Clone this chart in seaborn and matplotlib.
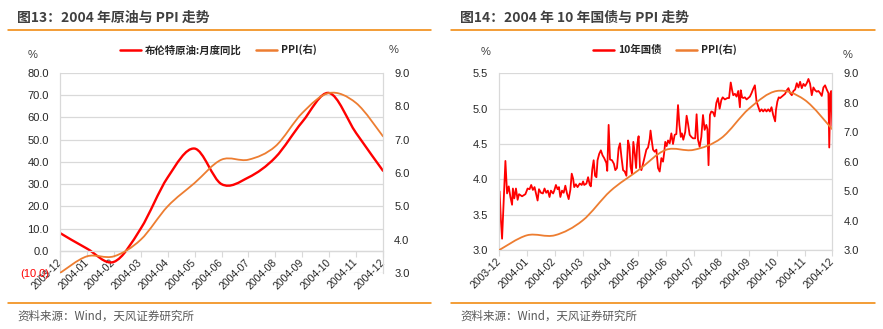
import numpy as np
import matplotlib
matplotlib.use("Agg")
import matplotlib.pyplot as plt
from matplotlib.path import Path
from matplotlib.patches import PathPatch
from matplotlib.lines import Line2D
import seaborn as sns

# ---------------- data ----------------
months = ["2003-12", "2004-01", "2004-02", "2004-03", "2004-04", "2004-05", "2004-06",
          "2004-07", "2004-08", "2004-09", "2004-10", "2004-11", "2004-12"]
brent_yoy = [8, 1, -5, 10, 33, 46, 30, 33, 42, 58, 71, 53, 36]
ppi = [3.0, 3.5, 3.5, 4.0, 5.0, 5.7, 6.4, 6.4, 6.8, 7.8, 8.4, 8.1, 7.1]

# 10Y government bond yield, time expressed in months since 2003-12
bond_month = [0.01, 0.06, 0.10, 0.22, 0.28, 0.34, 0.40, 0.46, 0.49, 0.54, 0.60, 0.66, 0.71, 0.82, 0.94,
              1.02, 1.09, 1.15, 1.21, 1.27, 1.33, 1.38, 1.43, 1.50, 1.57, 1.63, 1.69, 1.75, 1.81, 1.86,
              1.94, 1.98, 2.04, 2.10, 2.15, 2.20, 2.26, 2.32, 2.38, 2.44, 2.50, 2.56, 2.61, 2.66, 2.70,
              2.76, 2.82, 2.90, 2.97, 3.02, 3.06, 3.14, 3.20, 3.26, 3.30, 3.35, 3.40, 3.45, 3.50, 3.54,
              3.60, 3.66, 3.72, 3.78, 3.86, 3.89, 3.94, 3.99,
              4.06, 4.13, 4.18, 4.24, 4.30, 4.35, 4.40, 4.46, 4.52, 4.58, 4.64, 4.69, 4.73, 4.78, 4.83,
              4.88, 4.93, 4.97, 5.02, 5.07, 5.12, 5.18, 5.24, 5.30, 5.36, 5.42, 5.45, 5.50, 5.54, 5.60,
              5.66, 5.72, 5.78, 5.84, 5.90, 5.94, 5.98, 6.03, 6.08, 6.14, 6.20, 6.26, 6.32, 6.38, 6.44,
              6.49, 6.54, 6.58, 6.63, 6.70, 6.75, 6.80, 6.86, 6.92, 6.98, 7.06, 7.11, 7.16, 7.22, 7.28,
              7.34, 7.40, 7.46, 7.50, 7.54, 7.59, 7.64, 7.70, 7.76, 7.82, 7.88, 7.94, 8.00,
              8.05, 8.13, 8.22, 8.28, 8.34, 8.39, 8.43, 8.49, 8.55, 8.61, 8.67, 8.70, 8.75, 8.79, 8.85,
              8.91, 8.97, 9.03, 9.09, 9.15, 9.21, 9.27, 9.33, 9.39, 9.45, 9.51, 9.57, 9.63, 9.69, 9.75,
              9.81, 9.87, 9.94, 9.97, 10.02, 10.07, 10.12, 10.18, 10.24, 10.30, 10.36, 10.42, 10.48,
              10.54, 10.60, 10.66, 10.72, 10.78, 10.84, 10.90, 10.96, 11.02, 11.08, 11.14, 11.20, 11.26,
              11.32, 11.38, 11.44, 11.50, 11.56, 11.62, 11.68, 11.74, 11.80, 11.86, 11.89, 11.93, 11.96,
              12.00]
bond_yield = [3.83, 3.40, 3.16, 4.26, 3.80, 3.90, 3.75, 3.64, 3.87, 3.73, 3.87, 3.71, 3.79, 3.76, 3.79,
              3.87, 3.86, 3.92, 3.85, 3.89, 3.79, 3.70, 3.86, 3.81, 3.80, 3.87, 3.81, 3.84, 3.75, 3.84,
              3.80, 3.84, 3.92, 3.86, 3.89, 3.75, 3.84, 3.81, 3.91, 3.80, 3.72, 3.85, 4.08, 4.01, 3.89,
              3.93, 3.89, 3.94, 3.92, 3.97, 3.92, 3.94, 4.03, 3.92, 3.90, 4.14, 4.27, 4.05, 4.03, 4.27,
              4.36, 4.41, 4.34, 4.30, 4.23, 4.12, 4.77, 4.28,
              4.27, 4.22, 4.13, 4.16, 4.44, 4.51, 4.32, 4.13, 4.11, 4.05, 4.55, 4.46, 4.18, 4.08, 4.53,
              4.37, 4.16, 4.49, 4.61, 4.16, 4.13, 4.22, 4.32, 4.42, 4.45, 4.57, 4.69, 4.53, 4.42, 4.39,
              4.42, 4.16, 4.11, 4.30, 4.25, 4.37, 4.53, 4.47, 4.55, 4.51, 4.65, 4.50, 4.63, 4.64, 5.05,
              4.77, 4.60, 4.65, 4.56, 4.67, 4.90, 4.79, 4.63, 4.60, 4.58, 4.58, 4.92, 4.56, 4.46, 4.60,
              4.91, 4.70, 4.77, 4.71, 4.20, 4.91, 4.96, 4.95, 4.89, 5.08, 5.15, 5.00, 5.12,
              5.16, 5.13, 5.15, 5.15, 5.37, 5.26, 5.19, 5.21, 5.17, 5.25, 5.02, 5.26, 5.16, 5.15, 5.16,
              5.13, 5.15, 5.17, 5.22, 5.28, 5.33, 5.10, 5.03, 4.96, 4.99, 4.96, 4.99, 4.96, 4.99, 4.96,
              5.02, 4.91, 4.82, 4.98, 5.10, 5.16, 5.15, 5.17, 5.19, 5.21, 5.26, 5.29, 5.22,
              5.19, 5.25, 5.27, 5.36, 5.30, 5.38, 5.29, 5.35, 5.32, 5.36, 5.42, 5.35, 5.19,
              5.30, 5.26, 5.24, 5.25, 5.22, 5.18, 5.30, 5.33, 5.27, 5.22, 4.45, 5.21, 5.25,
              4.75]

left_ticks_1 = [-10, 0, 10, 20, 30, 40, 50, 60, 70, 80]
ppi_ticks = [3, 4, 5, 6, 7, 8, 9]
bond_ticks = [3.0, 3.5, 4.0, 4.5, 5.0, 5.5]

RED = "#FF0000"
ORANGE = "#ED7D31"
RULE = "#F08300"
GRID = "#D9D9D9"
TXT = "#262626"

sns.set_theme(style="white")
plt.rcParams["font.family"] = ["Liberation Sans", "Noto Sans CJK SC", "DejaVu Sans"]
CJK = ["Noto Sans CJK SC", "Liberation Sans", "DejaVu Sans"]

W, H = 883, 329
fig = plt.figure(figsize=(W / 100, H / 100), dpi=100)


def fx(px):
    return px / W


def fy(py):
    return 1 - py / H


def smooth_path(xs, ys):
    pts = np.column_stack([np.asarray(xs, float), np.asarray(ys, float)])
    ext = np.vstack([pts[0], pts, pts[-1]])
    verts = [pts[0]]
    codes = [Path.MOVETO]
    for i in range(len(pts) - 1):
        p0, p1, p2, p3 = ext[i], ext[i + 1], ext[i + 2], ext[i + 3]
        c1 = p1 + (p2 - p0) / 6.0
        c2 = p2 - (p3 - p1) / 6.0
        verts += [c1, c2, p2]
        codes += [Path.CURVE4] * 3
    return Path(verts, codes)


def style_xticks(ax):
    ax.set_xlim(0, 12)
    ax.set_xticks(range(len(months)))
    ax.set_xticklabels(months, rotation=45, ha="right", va="center",
                       rotation_mode="anchor", fontsize=7.5, color=TXT)
    ax.tick_params(axis="x", length=4, width=0.8, color=GRID, pad=3, bottom=True)


# ---------------- left chart ----------------
x_idx = list(range(len(months)))
ax1 = fig.add_axes([fx(60), fy(273), fx(383) - fx(60), fy(73) - fy(273)])
ax1.spines["bottom"].set_position(("data", 0))
ax1.set_ylim(-10, 80)
ax1.set_yticks(left_ticks_1)
ax1.set_yticklabels(["(10.0)" if v < 0 else f"{v:.1f}" for v in left_ticks_1], fontsize=8, color=TXT)
ax1.get_yticklabels()[0].set_color(RED)
ax1.tick_params(axis="y", length=0, pad=8)
ax1.yaxis.grid(True, color=GRID, lw=0.9)
ax1.set_axisbelow(True)
style_xticks(ax1)
for s in ["top", "right"]:
    ax1.spines[s].set_visible(False)
for s in ["left", "bottom"]:
    ax1.spines[s].set_color(GRID)
    ax1.spines[s].set_linewidth(0.9)
ax1.add_patch(PathPatch(smooth_path(x_idx, brent_yoy), facecolor="none", edgecolor=RED,
                        lw=1.7, capstyle="round", joinstyle="round"))

ax2 = ax1.twinx()
ax2.set_ylim(3, 9)
ax2.set_yticks(ppi_ticks)
ax2.set_yticklabels([f"{v:.1f}" for v in ppi_ticks], fontsize=8, color=TXT)
ax2.tick_params(axis="y", length=0, pad=8)
for s in ["top", "left", "bottom"]:
    ax2.spines[s].set_visible(False)
ax2.spines["right"].set_color(GRID)
ax2.spines["right"].set_linewidth(0.9)
ax2.add_patch(PathPatch(smooth_path(x_idx, ppi), facecolor="none", edgecolor=ORANGE,
                        lw=1.3, capstyle="round", joinstyle="round"))

# ---------------- right chart ----------------
ax3 = fig.add_axes([fx(499.3), fy(250), fx(832.3) - fx(499.3), fy(73.3) - fy(250)])
sns.lineplot(x=bond_month, y=bond_yield, ax=ax3, color=RED, lw=1.3, estimator=None, legend=False)
ax3.set_ylim(3.0, 5.5)
ax3.set_yticks(bond_ticks)
ax3.set_yticklabels([f"{v:.1f}" for v in bond_ticks], fontsize=8, color=TXT)
ax3.tick_params(axis="y", length=0, pad=8)
ax3.yaxis.grid(True, color=GRID, lw=0.9)
ax3.set_axisbelow(True)
ax3.set_xlabel("")
ax3.set_ylabel("")
style_xticks(ax3)
for s in ["top", "right"]:
    ax3.spines[s].set_visible(False)
for s in ["left", "bottom"]:
    ax3.spines[s].set_color(GRID)
    ax3.spines[s].set_linewidth(0.9)

ax4 = ax3.twinx()
ax4.set_ylim(3, 9)
ax4.set_yticks(ppi_ticks)
ax4.set_yticklabels([f"{v:.1f}" for v in ppi_ticks], fontsize=8, color=TXT)
ax4.tick_params(axis="y", length=0, pad=8)
for s in ["top", "left", "bottom"]:
    ax4.spines[s].set_visible(False)
ax4.spines["right"].set_color(GRID)
ax4.spines["right"].set_linewidth(0.9)
ax4.add_patch(PathPatch(smooth_path(x_idx, ppi), facecolor="none", edgecolor=ORANGE,
                        lw=1.3, capstyle="round", joinstyle="round"))

# ---------------- decorations ----------------
for (x0, x1, tx, title) in [(8, 431, 17, "图13：2004 年原油与 PPI 走势"),
                            (451, 875, 460, "图14：2004 年 10 年国债与 PPI 走势")]:
    fig.add_artist(Line2D([fx(x0), fx(x1)], [fy(30), fy(30)], color=RULE, lw=1.1))
    fig.add_artist(Line2D([fx(x0), fx(x1)], [fy(302.5), fy(302.5)], color=RULE, lw=1.1))
    fig.text(fx(tx), fy(17.5), title, fontsize=10, fontweight="bold", color="#404040",
             ha="left", va="center", family=CJK)
    fig.text(fx(tx), fy(316.5), "资料来源：Wind，天风证券研究所", fontsize=8.3, color="#595959",
             ha="left", va="center", family=CJK)

for (px, py) in [(32.5, 55), (394, 50), (485.5, 52), (847.5, 55)]:
    fig.text(fx(px), fy(py), "%", fontsize=8, color="#404040", ha="center", va="center")

leg_prop = dict(family=CJK, weight="bold", size=7.5)
h1 = [Line2D([], [], color=RED, lw=1.8), Line2D([], [], color=ORANGE, lw=1.8)]
fig.legend(h1, ["布伦特原油:月度同比", "PPI(右)"], loc="center", bbox_to_anchor=(fx(218.5), fy(50)),
           ncol=2, frameon=False, prop=leg_prop, handlelength=2.0, handletextpad=0.4,
           columnspacing=1.4, labelcolor="#262626")
fig.legend(h1, ["10年国债", "PPI(右)"], loc="center", bbox_to_anchor=(fx(665), fy(50)),
           ncol=2, frameon=False, prop=leg_prop, handlelength=2.0, handletextpad=0.4,
           columnspacing=1.4, labelcolor="#262626")

fig.savefig("out.png", dpi=100)
